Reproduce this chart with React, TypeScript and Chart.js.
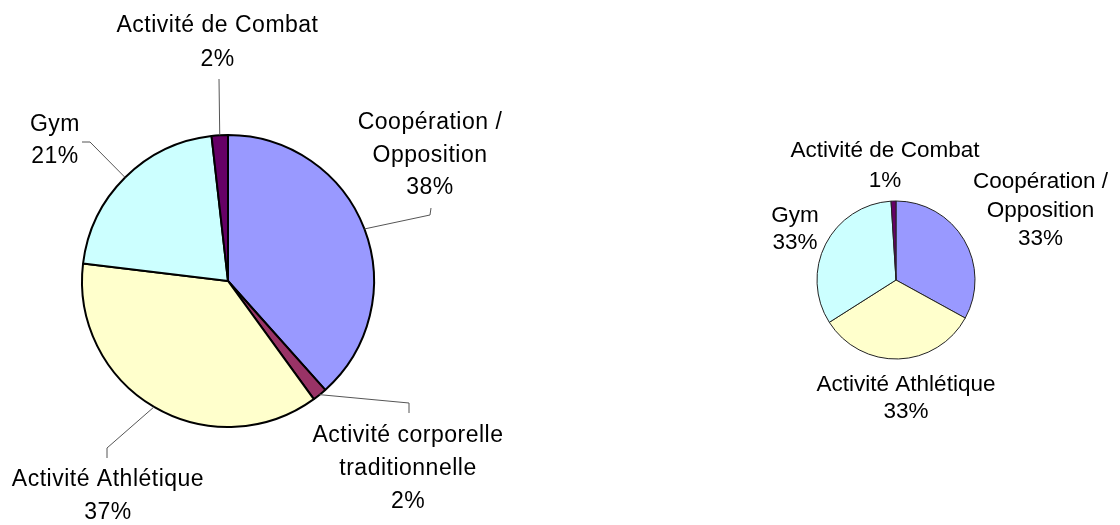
import React, { useEffect, useRef } from "react";
import { Chart, registerables } from "chart.js";

Chart.register(...registerables);

// ---- Data ----
const categories = [
  "Coopération /\nOpposition",
  "Activité corporelle\ntraditionnelle",
  "Activité Athlétique",
  "Gym",
  "Activité de Combat",
];
const leftValues = [38.4, 1.6, 36.9, 21.3, 1.8];
const rightValues = [33, 0, 33, 33, 1];
const sliceColors = ["#9999FF", "#993366", "#FFFFCC", "#CCFFFF", "#660066"];

// ---- Label layout (relative to pie centre): text anchor, line height, leader elbows ----
type LabelLayout = { dx: number; dy: number; lh: number; leader?: [number, number][] } | null;

const leftLayout: LabelLayout[] = [
  { dx: 202, dy: -160, lh: 32.5, leader: [[202, -66], [203, -73]] },
  { dx: 180, dy: 152.5, lh: 33, leader: [[181, 122], [181, 132]] },
  { dx: -120, dy: 197, lh: 33, leader: [[-121, 167], [-121, 177]] },
  { dx: -173, dy: -158, lh: 32, leader: [[-138, -139], [-146, -139]] },
  { dx: -10.5, dy: -257.5, lh: 34, leader: [[-9, -202]] },
];
const rightLayout: LabelLayout[] = [
  { dx: 144.5, dy: -100, lh: 28.5 },
  null,
  { dx: 10, dy: 102.5, lh: 27 },
  { dx: -101, dy: -66.5, lh: 27 },
  { dx: -11, dy: -131.5, lh: 30 },
];

const labelPlugin = {
  id: "pieLabels",
  afterDatasetsDraw(chart: any, _args: any, opts: any) {
    const layout: LabelLayout[] = opts.layout || [];
    const ctx = chart.ctx;
    const meta = chart.getDatasetMeta(0);
    const data: number[] = chart.data.datasets[0].data;
    const total = data.reduce((a, b) => a + b, 0);
    meta.data.forEach((arc: any, i: number) => {
      const lay = layout[i];
      const v = data[i];
      if (!lay || !v) return;
      const cx = arc.x;
      const cy = arc.y;
      const mid = (arc.startAngle + arc.endAngle) / 2;
      const R = arc.outerRadius;
      ctx.save();
      if (lay.leader) {
        ctx.beginPath();
        ctx.strokeStyle = "#555";
        ctx.lineWidth = 1;
        ctx.moveTo(cx + Math.cos(mid) * R, cy + Math.sin(mid) * R);
        lay.leader.forEach(([px, py]) => ctx.lineTo(cx + px, cy + py));
        ctx.stroke();
      }
      ctx.font = opts.font;
      (ctx as any).letterSpacing = opts.letterSpacing || "0px";
      ctx.fillStyle = "#000";
      ctx.textAlign = "center";
      ctx.textBaseline = "alphabetic";
      const lines = categories[i].split("\n").concat([Math.round((v / total) * 100) + "%"]);
      lines.forEach((t, k) => {
        ctx.fillText(t, cx + lay.dx, cy + lay.dy + 8.2 + k * lay.lh);
      });
      ctx.restore();
    });
  },
};

function PieCanvas(props: {
  values: number[];
  radius: number;
  borderWidth: number;
  borderColor: string;
  padding: { left: number; right: number; top: number; bottom: number };
  layout: LabelLayout[];
  left: number;
  font: string;
  letterSpacing: string;
}) {
  const ref = useRef<HTMLCanvasElement | null>(null);
  useEffect(() => {
    if (!ref.current) return;
    const chart = new Chart(ref.current, {
      type: "pie",
      data: {
        labels: categories,
        datasets: [
          {
            data: props.values,
            backgroundColor: sliceColors,
            borderColor: props.borderColor,
            borderWidth: props.borderWidth,
            radius: props.radius,
          } as any,
        ],
      },
      options: {
        responsive: false,
        animation: false,
        events: [],
        layout: { padding: props.padding },
        plugins: {
          legend: { display: false },
          tooltip: { enabled: false },
          pieLabels: { layout: props.layout, font: props.font, letterSpacing: props.letterSpacing },
        } as any,
      },
      plugins: [labelPlugin],
    });
    return () => chart.destroy();
  }, []);
  return (
    <canvas
      ref={ref}
      width={560}
      height={525}
      style={{ position: "absolute", left: props.left, top: 0, width: 560, height: 525 }}
    />
  );
}

export default function App() {
  useEffect(() => {
    document.body.style.margin = "0";
    document.body.style.background = "#fff";
  }, []);
  return (
    <div style={{ position: "relative", width: 1120, height: 525, background: "#fff", overflow: "hidden" }}>
      <PieCanvas
        values={leftValues}
        radius={146}
        borderWidth={2}
        borderColor="#000"
        padding={{ left: 0, right: 104, top: 37, bottom: 0 }}
        layout={leftLayout}
        left={0}
        font={'23px "Liberation Sans", Arial, sans-serif'}
        letterSpacing="0.5px"
      />
      <PieCanvas
        values={rightValues}
        radius={79}
        borderWidth={1}
        borderColor="#222"
        padding={{ left: 112, right: 0, top: 35, bottom: 0 }}
        layout={rightLayout}
        left={560}
        font={'22.5px "Liberation Sans", Arial, sans-serif'}
        letterSpacing="0px"
      />
    </div>
  );
}
